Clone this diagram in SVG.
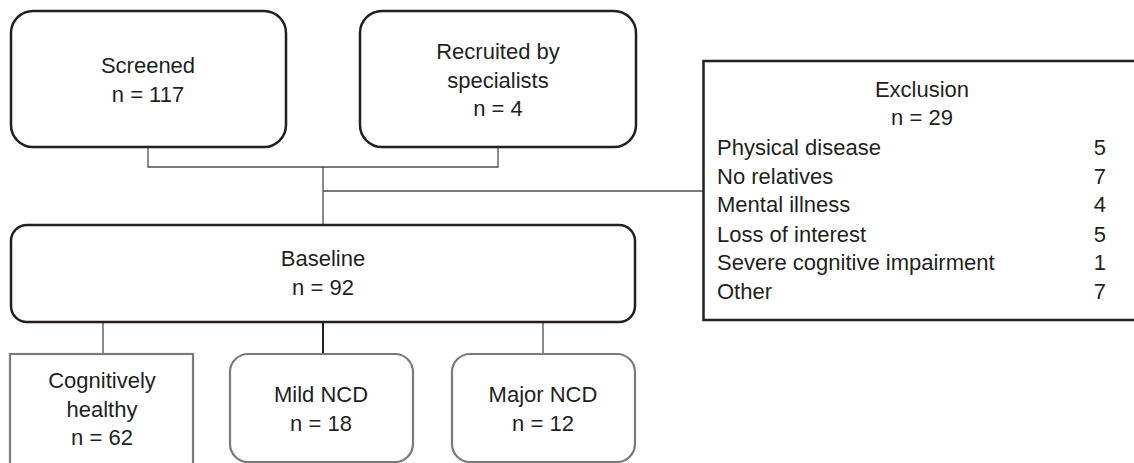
<svg xmlns="http://www.w3.org/2000/svg" width="1134" height="463" viewBox="0 0 1134 463">
<style>
  .t { font-family: "Liberation Sans", Arial, sans-serif; font-size: 22px; fill: #231f20; }
  .c { text-anchor: middle; }
  .e { text-anchor: end; }
  .main { fill: #ffffff; stroke: #231f20; stroke-width: 2.5; }
  .sub { fill: #ffffff; stroke: #7a7a7a; stroke-width: 2.2; }
  .conn { fill: none; stroke: #4d4d4d; stroke-width: 1.3; }
  .connd { fill: none; stroke: #231f20; stroke-width: 2; }
</style>
<rect width="1134" height="463" fill="#ffffff"/>
<g id="connectors">
  <polyline class="conn" points="148,147 148,167 498,167 498,147"/>
  <line class="conn" x1="323" y1="167" x2="323" y2="225"/>
  <line class="conn" x1="323" y1="191" x2="703" y2="191"/>
  <line class="conn" x1="103" y1="322" x2="103" y2="354"/>
  <line class="connd" x1="323" y1="322" x2="323" y2="354"/>
  <line class="conn" x1="543" y1="322" x2="543" y2="354"/>
</g>
<g id="screened">
  <rect class="main" x="11" y="11" width="275" height="136" rx="22"/>
  <text class="t c" x="148" y="73">Screened</text>
  <text class="t c" x="148" y="102">n = 117</text>
</g>
<g id="recruited">
  <rect class="main" x="360" y="11" width="276" height="136" rx="22"/>
  <text class="t c" x="498" y="59">Recruited by</text>
  <text class="t c" x="498" y="87.5">specialists</text>
  <text class="t c" x="498" y="116">n = 4</text>
</g>
<g id="exclusion">
  <rect class="main" x="703.5" y="61" width="440" height="259"/>
  <text class="t c" x="922" y="97">Exclusion</text>
  <text class="t c" x="922" y="125">n = 29</text>
  <text class="t" x="717" y="155">Physical disease</text>
  <text class="t e" x="1106" y="155">5</text>
  <text class="t" x="717" y="183.5">No relatives</text>
  <text class="t e" x="1106" y="183.5">7</text>
  <text class="t" x="717" y="212">Mental illness</text>
  <text class="t e" x="1106" y="212">4</text>
  <text class="t" x="717" y="241.5">Loss of interest</text>
  <text class="t e" x="1106" y="241.5">5</text>
  <text class="t" x="717" y="270">Severe cognitive impairment</text>
  <text class="t e" x="1106" y="270">1</text>
  <text class="t" x="717" y="298.5">Other</text>
  <text class="t e" x="1106" y="298.5">7</text>
</g>
<g id="baseline">
  <rect class="main" x="11" y="225" width="624" height="97" rx="16"/>
  <text class="t c" x="323" y="266">Baseline</text>
  <text class="t c" x="323" y="295">n = 92</text>
</g>
<g id="healthy">
  <rect class="sub" x="10" y="354" width="183" height="120"/>
  <text class="t c" x="102" y="388">Cognitively</text>
  <text class="t c" x="102" y="417">healthy</text>
  <text class="t c" x="102" y="445">n = 62</text>
</g>
<g id="mild">
  <rect class="sub" x="230" y="354" width="183" height="108" rx="18"/>
  <text class="t c" x="321" y="402">Mild NCD</text>
  <text class="t c" x="321" y="431">n = 18</text>
</g>
<g id="major">
  <rect class="sub" x="452" y="354" width="183" height="108" rx="18"/>
  <text class="t c" x="543" y="402">Major NCD</text>
  <text class="t c" x="543" y="431">n = 12</text>
</g>
</svg>
